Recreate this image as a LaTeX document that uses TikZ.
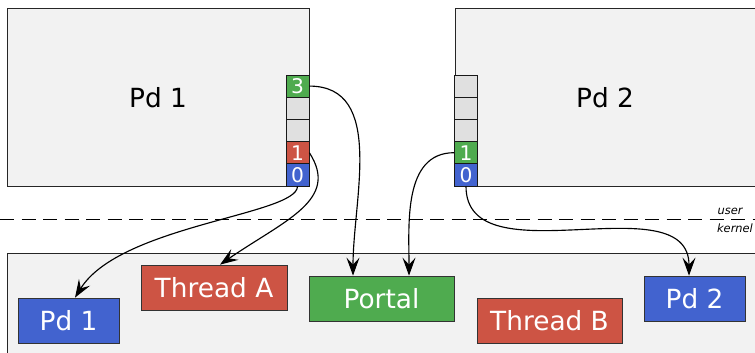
\documentclass[tikz,border=0pt]{standalone}
\usepackage{fontspec}
\setmainfont{DejaVu Sans}
\usetikzlibrary{arrows.meta}

\definecolor{boxgray}{HTML}{F2F2F2}
\definecolor{slotgray}{HTML}{E0E0E0}
\definecolor{capblue}{HTML}{4263CF}
\definecolor{capred}{HTML}{CD5444}
\definecolor{capgreen}{HTML}{4FAB4F}

\tikzset{
  slot/.style={draw=black!90, fill=slotgray, minimum width=4.6mm, minimum height=4.44mm,
    inner sep=0pt, text=white, font=\fontsize{11.5}{12}\selectfont},
  kobj/.style={draw=black!80, text=white, minimum height=9mm, inner sep=0pt,
    font=\fontsize{15}{18}\selectfont},
  link/.style={-{Stealth[length=3.6mm,width=2.6mm,inset=1.4mm]}, line width=0.65pt}
}

\begin{document}
\begin{tikzpicture}[x=0.2mm, y=-0.2mm]
\clip (0,0) rectangle (755,353);

% user side
\draw[black!85, fill=boxgray] (7,8) rectangle (309,186);
\draw[black!85, fill=boxgray] (455,8) rectangle (770,186);
\node[font=\fontsize{15}{18}\selectfont] (pdone) at (158,98) {Pd 1};
\node[font=\fontsize{15}{18}\selectfont] (pdtwo) at (605,98) {Pd 2};

\node[slot, fill=capgreen] (l3) at (297.5,86.1) {3};
\node[slot] (l2) at (297.5,108.3) {};
\node[slot] (lx) at (297.5,130.5) {};
\node[slot, fill=capred] (l1) at (297.5,152.7) {1};
\node[slot, fill=capblue] (l0) at (297.5,174.9) {0};

\node[slot] (r3) at (466,86.1) {};
\node[slot] (r2) at (466,108.3) {};
\node[slot] (rx) at (466,130.5) {};
\node[slot, fill=capgreen] (r1) at (466,152.7) {1};
\node[slot, fill=capblue] (r0) at (466,174.9) {0};

% boundary
\draw[dash pattern=on 2.8mm off 1.5mm] (0,219) -- (760,219);
\node[font=\fontsize{6.5}{7}\itshape] (usr) at (730,211) {user};
\node[font=\fontsize{6.5}{7}\itshape] (krn) at (735,228) {kernel};

% kernel side
\draw[black!85, fill=boxgray] (7,253) rectangle (770,370);
\node[kobj, fill=capblue, minimum width=20.2mm] (kpdone) at (68.5,320.5) {Pd 1};
\node[kobj, fill=capred, minimum width=29.2mm] (threada) at (214,287.5) {Thread A};
\node[kobj, fill=capgreen, minimum width=29mm] (portal) at (381.5,298.5) {Portal};
\node[kobj, fill=capred, minimum width=29mm] (threadb) at (549.5,320.5) {Thread B};
\node[kobj, fill=capblue, minimum width=20.2mm] (kpdtwo) at (694.5,298.5) {Pd 2};

% capabilities
\draw[link] (l0.south) .. controls (297,215) and (120,225) .. ([xshift=1.3mm]kpdone.north);
\draw[link] (l1.east) .. controls (340,200) and (285,220) .. ([xshift=1.2mm]threada.north);
\draw[link] (l3.east) to[out=0, in=90] ([xshift=-5.7mm]portal.north);
\draw[link] (r1.west) to[out=180, in=90] ([xshift=5.5mm]portal.north);
\draw[link] (r0.south) to[out=-90, in=90] ([xshift=-1.1mm]kpdtwo.north);
\end{tikzpicture}
\end{document}
